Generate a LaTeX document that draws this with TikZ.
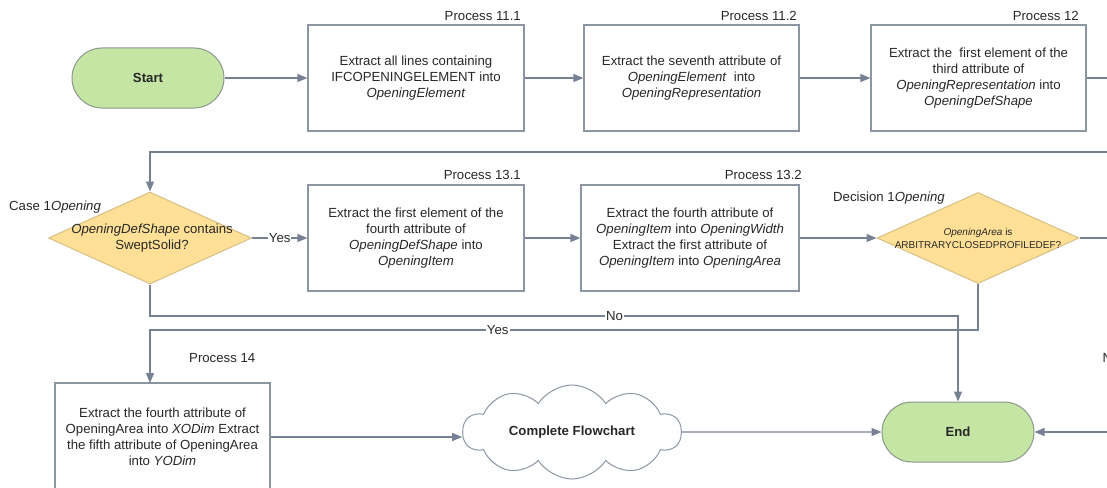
\documentclass[tikz,border=0pt]{standalone}
\usepackage{fontspec}
\setmainfont{Liberation Sans}
\usetikzlibrary{shapes.geometric,shapes.symbols,arrows.meta}
\definecolor{linec}{RGB}{118,130,148}
\definecolor{boxc}{RGB}{140,150,162}
\definecolor{termfill}{RGB}{197,229,165}
\definecolor{termline}{RGB}{140,150,140}
\definecolor{decfill}{RGB}{255,224,150}
\definecolor{decline}{RGB}{215,190,130}
\definecolor{txt}{RGB}{40,40,40}
\tikzset{
  base/.style={font=\fontsize{13.2}{16}\selectfont, text=txt},
  procbox/.style={base, draw=boxc, line width=1.2pt, fill=white, rectangle, minimum width=216pt, minimum height=106pt, align=center, inner sep=2pt},
  term/.style={base, font=\fontsize{13.2}{16}\selectfont\bfseries, draw=termline, line width=1pt, fill=termfill, rounded corners=30pt, minimum width=152pt, minimum height=60pt},
  dec/.style={draw=decline, line width=1pt, fill=decfill, diamond, inner sep=0pt},
  dectext/.style={base, align=center},
  captext/.style={base, inner sep=0pt},
  conn/.style={draw=linec, line width=1.3pt, -{Triangle[length=10pt,width=8pt]}},
  lbl/.style={base, fill=white, inner sep=1pt}
}
\begin{document}
\begin{tikzpicture}[x=1pt,y=-1pt]
\fill[white] (0,0) rectangle (1107,487);
\useasboundingbox (0,0) rectangle (1107,487);

% top row
\node[term] (start) at (148,78) {Start};
\node[procbox] (p111) at (416,78) {Extract all lines containing\\IFCOPENINGELEMENT into\\\textit{OpeningElement}};
\node[procbox, minimum width=215pt] (p112) at (691.5,78) {Extract the seventh attribute of\\\textit{OpeningElement}\ \ into\\\textit{OpeningRepresentation}};
\node[procbox, minimum width=215pt] (p12) at (978.5,78) {Extract the\ \ first element of the\\third attribute of\\\textit{OpeningRepresentation} into\\\textit{OpeningDefShape}};

\node[captext, anchor=base east] (c111) at (521,21) {Process 11.1};
\node[captext, anchor=base east] (c112) at (797,21) {Process 11.2};
\node[captext, anchor=base east] (c12) at (1079,21) {Process 12};

% middle row
\node[dec, minimum width=203pt, minimum height=92pt] (d1) at (150,238) {};
\node[dectext] (d1t) at (152,238) {\textit{OpeningDefShape} contains\\SweptSolid?};
\node[procbox] (p131) at (416,238) {Extract the first element of the\\fourth attribute of\\\textit{OpeningDefShape} into\\\textit{OpeningItem}};
\node[procbox, minimum width=218pt] (p132) at (690,238) {Extract the fourth attribute of\\\textit{OpeningItem} into \textit{OpeningWidth}\\Extract the first attribute of\\\textit{OpeningItem} into \textit{OpeningArea}};
\node[dec, minimum width=202pt, minimum height=91pt] (d2) at (978,238) {};
\node[dectext, font=\fontsize{10}{13}\selectfont] (d2t) at (978,238) {\textit{OpeningArea} is\\ARBITRARYCLOSEDPROFILEDEF?};

\node[captext, anchor=base west] (ccase) at (9,210) {Case 1\textit{Opening}};
\node[captext, anchor=base east] (c131) at (521,179) {Process 13.1};
\node[captext, anchor=base east] (c132) at (802,179) {Process 13.2};
\node[captext, anchor=base west] (cdec) at (833,201) {Decision 1\textit{Opening}};

% bottom row
\node[procbox, minimum width=215pt, minimum height=108pt] (p14) at (162.5,437) {Extract the fourth attribute of\\OpeningArea into \textit{XODim} Extract\\the fifth attribute of OpeningArea\\into \textit{YODim}};
\node[captext, anchor=base west] (c14) at (189,362) {Process 14};
\node[cloud, cloud puffs=10, cloud puff arc=115, aspect=2.3, draw=boxc, line width=1pt, fill=white, minimum width=218pt, minimum height=94pt, inner sep=0pt] (cl) at (572,432) {};
\node[base, font=\fontsize{13.2}{16}\selectfont\bfseries] (clt) at (572,432) {Complete Flowchart};
\node[term] (end) at (958,432) {End};

% off-page helper coordinates
\coordinate (r1) at (1125,78);
\coordinate (r2) at (1125,152);
\coordinate (r3) at (1111,238);
\coordinate (n1) at (150,316);
\coordinate (n2) at (958,316);
\coordinate (y1) at (978,330);
\coordinate (y2) at (150,330);
\coordinate (y3) at (150,383);

% connectors
\draw[conn] (start.east) -- (p111.west);
\draw[conn] (p111.east) -- (p112.west);
\draw[conn] (p112.east) -- (p12.west);
\draw[conn] (p12.east) -- (r1) -- (r2) -| (d1.north);
\draw[conn] (d1.east) -- node[lbl] {Yes} (p131.west);
\draw[conn] (p131.east) -- (p132.west);
\draw[conn] (p132.east) -- (d2.west);
\draw[conn] (d2.east) -- (r3) |- node[lbl, pos=0.31] {No} (end.east);
\draw[conn] (d1.south) -- (n1) -- node[lbl, pos=0.575] {No} (n2) -- (end.north);
\draw[conn] (d2.south) -- (y1) -- node[lbl, pos=0.58] {Yes} (y2) -- (y3);
\draw[conn] (p14.east) -- (p14.east -| cl.west);
\draw[conn] (cl.east) -- (end.west);
\end{tikzpicture}
\end{document}
